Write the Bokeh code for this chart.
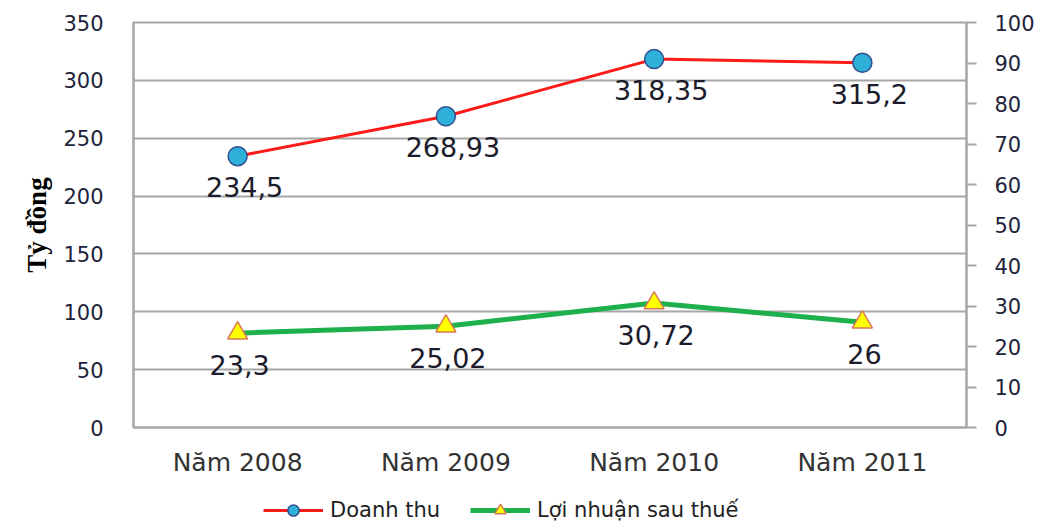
from bokeh.plotting import figure
from bokeh.layouts import column
from bokeh.models import (Range1d, FactorRange, LinearAxis, FixedTicker, ColumnDataSource, Legend)
from bokeh.core.properties import value
from bokeh.embed import file_html
from bokeh.resources import INLINE

years = ["Năm 2008", "Năm 2009", "Năm 2010", "Năm 2011"]
doanh_thu = [234.5, 268.93, 318.35, 315.2]
loi_nhuan = [23.3, 25.02, 30.72, 26]
left_ticks = [0, 50, 100, 150, 200, 250, 300, 350]
right_ticks = [0, 10, 20, 30, 40, 50, 60, 70, 80, 90, 100]
series_names = ["Doanh thu", "Lợi nhuận sau thuế"]

def fmt(v):
    return (("%g" % v)).replace(".", ",")

src1 = ColumnDataSource(dict(x=years, y=doanh_thu, lab=[fmt(v) for v in doanh_thu]))
src2 = ColumnDataSource(dict(x=years, y=loi_nhuan, lab=[fmt(v) for v in loi_nhuan]))

FONT = "DejaVu Sans"
TICK_COLOR = "#22223a"
GRID = "#a6a6a6"
RED = "#ff1a1a"
GREEN = "#1db04b"

p = figure(width=1040, height=490, x_range=FactorRange(*years, range_padding=0),
           y_range=Range1d(0, 350), output_backend="svg", toolbar_location=None,
           min_border_left=133, min_border_right=74, min_border_top=22, min_border_bottom=63)
p.extra_y_ranges = {"right": Range1d(0, 100)}

p.outline_line_color = GRID
p.outline_line_width = 2
p.xgrid.grid_line_color = None
p.ygrid.grid_line_color = GRID
p.ygrid.grid_line_width = 2

# left axis
ya = p.yaxis[0]
ya.ticker = FixedTicker(ticks=left_ticks)
ya.axis_line_color = GRID
ya.axis_line_width = 2
ya.major_tick_line_color = None
ya.minor_tick_line_color = None
ya.major_tick_out = 0
ya.major_label_standoff = 30
ya.major_label_text_font = FONT
ya.major_label_text_font_size = "21px"
ya.major_label_text_color = TICK_COLOR
ya.axis_label = "Tỷ đồng"
ya.axis_label_text_font = "Liberation Serif"
ya.axis_label_text_font_style = "bold"
ya.axis_label_text_font_size = "27px"
ya.axis_label_text_color = "#000000"
ya.axis_label_standoff = 8

# right axis
ra = LinearAxis(y_range_name="right", ticker=FixedTicker(ticks=right_ticks))
ra.axis_line_color = GRID
ra.axis_line_width = 2
ra.major_tick_line_color = GRID
ra.major_tick_line_width = 2
ra.major_tick_in = 0
ra.major_tick_out = 10
ra.minor_tick_line_color = None
ra.major_label_standoff = 18
ra.major_label_text_font = FONT
ra.major_label_text_font_size = "21px"
ra.major_label_text_color = TICK_COLOR
p.add_layout(ra, "right")

# x axis
xa = p.xaxis[0]
xa.axis_line_color = GRID
xa.axis_line_width = 2
xa.major_tick_line_color = None
xa.major_tick_out = 0
xa.major_label_standoff = 20
xa.major_label_text_font = FONT
xa.major_label_text_font_size = "25px"
xa.major_label_text_color = "#333333"

def draw(fig, legend_fig=False):
    kw2 = {} if legend_fig else {"y_range_name": "right"}
    l1 = fig.line("x", "y", source=src1, line_color=RED, line_width=3)
    m1 = fig.scatter("x", "y", source=src1, marker="circle", size=19 if not legend_fig else 14,
                     fill_color="#2fb0d8", line_color="#2f4f8f", line_width=1.5)
    l2 = fig.line("x", "y", source=src2, line_color=GREEN, line_width=5, **kw2)
    m2 = fig.scatter("x", "y", source=src2, marker="triangle", size=20 if not legend_fig else 16,
                     fill_color="#ffff00", line_color="#d9785a", line_width=1.5, **kw2)
    return l1, m1, l2, m2

draw(p)

p.text("x", "y", text="lab", source=src1, text_align="center", text_baseline="middle",
       y_offset=31, x_offset=7, text_font=value(FONT), text_font_size="27px", text_color="#1c1c2c")
p.text("x", "y", text="lab", source=src2, y_range_name="right", text_align="center",
       text_baseline="middle", y_offset=32, x_offset=2, text_font=value(FONT),
       text_font_size="27px", text_color="#1c1c2c")

# legend strip (its glyphs lie outside its visible range; only the legend shows)
lg = figure(width=1040, height=32, x_range=FactorRange(*years, range_padding=0),
            y_range=Range1d(1000, 1001), output_backend="svg", toolbar_location=None,
            min_border=0)
lg.axis.visible = False
lg.grid.visible = False
lg.outline_line_color = None
ll1, lm1, ll2, lm2 = draw(lg, legend_fig=True)
legend = Legend(items=[(series_names[0], [ll1, lm1]), (series_names[1], [ll2, lm2])],
                orientation="horizontal", location=(130, -2),
                label_text_font=FONT, label_text_font_size="21px", label_text_color="#222222",
                glyph_width=60, glyph_height=28, spacing=30, padding=0, margin=0, label_standoff=7,
                border_line_color=None, background_fill_alpha=0)
lg.add_layout(legend, "center")

open("out.html", "w").write(file_html(column(p, lg, spacing=0), INLINE))
